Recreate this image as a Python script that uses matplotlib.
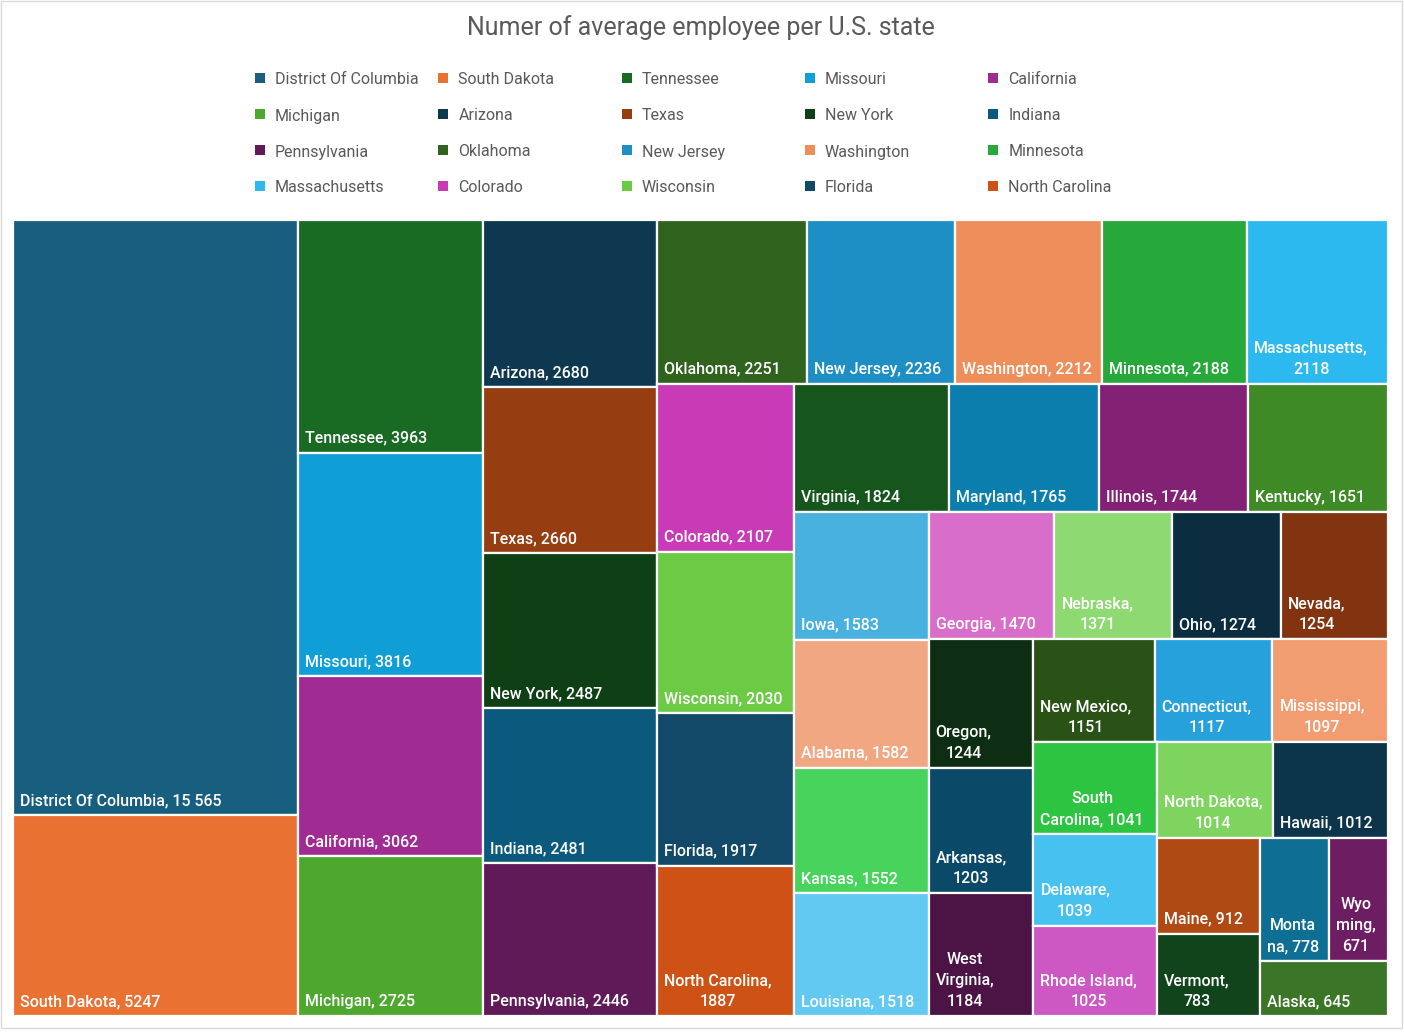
import matplotlib
matplotlib.use("Agg")
import matplotlib.pyplot as plt
from matplotlib.patches import Rectangle
from matplotlib.font_manager import FontProperties

states = ["District Of Columbia", "South Dakota", "Tennessee", "Missouri", "California",
          "Michigan", "Arizona", "Texas", "New York", "Indiana",
          "Pennsylvania", "Oklahoma", "New Jersey", "Washington", "Minnesota",
          "Massachusetts", "Colorado", "Wisconsin", "Florida", "North Carolina",
          "Virginia", "Maryland", "Illinois", "Kentucky", "Iowa",
          "Alabama", "Kansas", "Louisiana", "Georgia", "Nebraska",
          "Ohio", "Nevada", "Oregon", "Arkansas", "West Virginia",
          "New Mexico", "Connecticut", "Mississippi", "South Carolina", "Delaware",
          "Rhode Island", "North Dakota", "Hawaii", "Maine", "Vermont",
          "Montana", "Wyoming", "Alaska"]

employees = [15565, 5247, 3963, 3816, 3062,
             2725, 2680, 2660, 2487, 2481,
             2446, 2251, 2236, 2212, 2188,
             2118, 2107, 2030, 1917, 1887,
             1824, 1765, 1744, 1651, 1583,
             1582, 1552, 1518, 1470, 1371,
             1274, 1254, 1244, 1203, 1184,
             1151, 1117, 1097, 1041, 1039,
             1025, 1014, 1012, 912, 783,
             778, 671, 645]

colors = ["#175E7F", "#E97132", "#196B24", "#0F9ED5", "#A02B93",
          "#4EA72E", "#0E3850", "#963D11", "#0F3F15", "#0B5A7D",
          "#5F1A57", "#30631E", "#1E8FC4", "#EE8E5B", "#26A83A",
          "#2CB9EF", "#C83AB6", "#6CCA45", "#124968", "#CE5115",
          "#16561D", "#0C7EAD", "#832175", "#3D8A26", "#48B1E0",
          "#F2A783", "#47D35C", "#62C9F3", "#D86EC9", "#8FD973",
          "#0B2D3F", "#823410", "#0D2E12", "#0A4A68", "#4B1445",
          "#2A5216", "#27A1DB", "#F19D71", "#2DC441", "#46C1F0",
          "#CD57C3", "#7ED45F", "#0C344B", "#B04A14", "#12441B",
          "#0F6E94", "#6D1D62", "#3B7628"]

title = "Numer of average employee per U.S. state"

FIG_W, FIG_H = 1404, 1032
W, H = 1375, 796   # treemap area in px
RATIO = 1.05       # target aspect, Excel packs a bit looser than plain squarify


def squarify(values, x0, y0, x1, y1, ratio=RATIO):
    # squarified treemap, d3 style; returns (x, y, w, h) per value
    rects = []
    value = float(sum(values))
    i0 = 0
    n = len(values)
    while i0 < n:
        dx, dy = x1 - x0, y1 - y0
        i1 = i0 + 1
        s = values[i0]
        vmin = vmax = s
        alpha = max(dy / dx, dx / dy) / (value * ratio)
        beta = s * s * alpha
        min_ratio = max(vmax / beta, beta / vmin)
        while i1 < n:
            v = values[i1]
            s2 = s + v
            beta = s2 * s2 * alpha
            new_ratio = max(max(vmax, v) / beta, beta / min(vmin, v))
            if new_ratio > min_ratio:
                break
            s, vmin, vmax, min_ratio = s2, min(vmin, v), max(vmax, v), new_ratio
            i1 += 1
        row = values[i0:i1]
        if dx < dy:
            # horizontal strip across the top
            ny = y0 + dy * s / value
            xx = x0
            for v in row:
                rw = dx * v / s
                rects.append((xx, y0, rw, ny - y0))
                xx += rw
            y0 = ny
        else:
            # vertical strip on the left
            nx = x0 + dx * s / value
            yy = y0
            for v in row:
                rh = dy * v / s
                rects.append((x0, yy, nx - x0, rh))
                yy += rh
            x0 = nx
        value -= s
        i0 = i1
    return rects


def fmt(v):
    if v >= 10000:
        return f"{v:,}".replace(",", "\u00a0")
    return str(v)


fig = plt.figure(figsize=(FIG_W / 100, FIG_H / 100), dpi=100)
ax = fig.add_axes([13 / FIG_W, 16 / FIG_H, W / FIG_W, H / FIG_H])
ax.set_xlim(0, W)
ax.set_ylim(H, 0)
ax.axis("off")

renderer = fig.canvas.get_renderer()
label_font = FontProperties(family="Roboto", weight="medium", size=11.5)


def text_width(s):
    w, _, _ = renderer.get_text_width_height_descent(s, label_font, ismath=False)
    return w


def wrap(label, maxw):
    lines = []
    cur = ""
    for word in label.split(" "):
        trial = word if not cur else cur + " " + word
        if text_width(trial) <= maxw:
            cur = trial
            continue
        if cur:
            lines.append(cur)
        while text_width(word) > maxw and len(word) > 1:
            k = len(word) - 1
            while k > 1 and text_width(word[:k]) > maxw:
                k -= 1
            lines.append(word[:k])
            word = word[k:]
        cur = word
    lines.append(cur)
    return "\n".join(lines)


rects = squarify(employees, 0, 0, W, H)

for (x, y, w, h), name, v, c in zip(rects, states, employees, colors):
    ax.add_patch(Rectangle((x, y), w, h, facecolor=c, edgecolor="white", linewidth=1.6))
    label = wrap(f"{name}, {fmt(v)}", w - 16)
    ax.text(x + 7, y + h - 7, label, fontproperties=label_font, color="white",
            ha="left", va="bottom", multialignment="center", linespacing=1.5)

# title
fig.text(0.499, 1 - 28 / FIG_H, title, ha="center", va="center",
         fontsize=18, family="Roboto", color="#595959")

# legend, row by row like Excel
for i in range(20):
    r, c = divmod(i, 5)
    lx = 255 + 183.3 * c
    ly = 79 + 36 * r
    fig.patches.append(Rectangle((lx / FIG_W, 1 - (ly + 4) / FIG_H), 10 / FIG_W, 10 / FIG_H,
                                 transform=fig.transFigure, facecolor=colors[i],
                                 edgecolor="none"))
    fig.text((lx + 20) / FIG_W, 1 - (ly + 1) / FIG_H, states[i], ha="left", va="center",
             fontsize=11.5, family="Roboto", color="#595959")

# chart border
fig.patches.append(Rectangle((1 / FIG_W, 4 / FIG_H), 1401 / FIG_W, 1027 / FIG_H,
                             transform=fig.transFigure, fill=False,
                             edgecolor="#D9D9D9", linewidth=1))

fig.savefig("out.png", dpi=100)
